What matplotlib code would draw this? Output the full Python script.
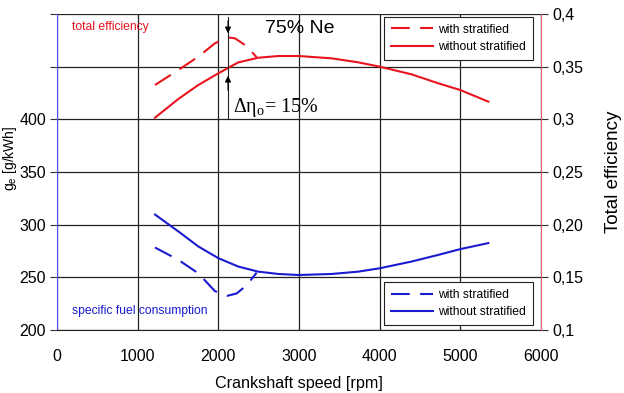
import matplotlib
matplotlib.use("Agg")
import matplotlib.pyplot as plt
from matplotlib.lines import Line2D

plt.rcParams['font.family'] = ['Liberation Sans', 'DejaVu Sans']
plt.rcParams['mathtext.default'] = 'regular'

# Total efficiency (right axis)
rpm_eta_wo = [1215, 1504, 1752, 2000, 2248, 2496, 2744, 3000, 3405, 3735, 4000, 4396, 4727, 5000, 5347]
eta_wo = [0.3016, 0.3193, 0.3326, 0.3437, 0.3541, 0.3585, 0.3601, 0.3601, 0.3579, 0.3541, 0.3500, 0.3427, 0.3342, 0.3278, 0.3168]
rpm_eta_w = [1215, 1504, 1752, 1958, 2115, 2206, 2330, 2413, 2475]
eta_w = [0.3326, 0.3468, 0.3595, 0.3722, 0.3778, 0.3769, 0.3706, 0.3642, 0.3589]

# Specific fuel consumption (left axis)
rpm_ge_wo = [1215, 1504, 1752, 2000, 2248, 2496, 2744, 3000, 3405, 3735, 4000, 4396, 4727, 5000, 5347]
ge_wo = [309.6, 293.6, 279.3, 268.2, 260.2, 255.4, 253.2, 252.2, 253.2, 255.4, 258.6, 265.0, 271.3, 276.8, 282.5]
rpm_ge_w = [1215, 1504, 1752, 1958, 2115, 2227, 2330, 2413, 2475]
ge_w = [278.3, 266.6, 253.8, 236.9, 232.5, 234.7, 241.1, 248.4, 254.5]

left_ticks = [200, 250, 300, 350, 400, 450, 500]
left_labels = ['200', '250', '300', '350', '400', '', '']
right_ticks = [0.1, 0.15, 0.2, 0.25, 0.3, 0.35, 0.4]
right_labels = ['0,1', '0,15', '0,20', '0,25', '0,3', '0,35', '0,4']
x_ticks = [0, 1000, 2000, 3000, 4000, 5000, 6000]
legend_labels = ['with stratified', 'without stratified']

RED = '#e8141e'
BLUE = '#1a1ad0'
DASH = (9, 5)

fig = plt.figure(figsize=(6.24, 3.93), dpi=100)
ax = fig.add_axes([57/624, 1-330/393, (541-57)/624, (330-14)/393])
ax2 = ax.twinx()

ax.set_xlim(0, 6000)
ax.set_ylim(200, 500)
ax2.set_ylim(0.1, 0.4)
ax.set_xticks(x_ticks)
ax.set_yticks(left_ticks)
ax.set_yticklabels(left_labels)
ax2.set_yticks(right_ticks)
ax2.set_yticklabels(right_labels)
ax.grid(True, color='#222222', linewidth=0.9)
ax.set_axisbelow(True)

for a in (ax, ax2):
    a.tick_params(labelsize=11.5, length=5, width=0.8, color='#333333', pad=3)
    for s in a.spines.values():
        s.set_visible(False)
ax.spines['left'].set_visible(True)
ax.spines['left'].set_color('#5050ff')
ax2.spines['right'].set_visible(True)
ax2.spines['right'].set_color('#e06070')
ax.spines['bottom'].set_visible(True)
ax.spines['bottom'].set_color('#222222')
ax.tick_params(axis='x', length=0, pad=14)

ax2.plot(rpm_eta_w, eta_w, color=RED, lw=1.5, dashes=DASH)
ax2.plot(rpm_eta_wo, eta_wo, color=RED, lw=1.5)
ax.plot(rpm_ge_w, ge_w, color=BLUE, lw=1.5, dashes=DASH)
ax.plot(rpm_ge_wo, ge_wo, color=BLUE, lw=1.5)

leg_kw = dict(fontsize=8.7, fancybox=False, framealpha=1, edgecolor='#222222',
              handlelength=3.5, borderpad=0.55, labelspacing=0.45, handletextpad=0.45,
              borderaxespad=0)
leg1 = ax2.legend([Line2D([], [], color=RED, lw=1.5, dashes=DASH), Line2D([], [], color=RED, lw=1.5)],
                  legend_labels, loc='upper right', bbox_to_anchor=(0.9835, 0.9905), **leg_kw)
leg2 = ax2.legend([Line2D([], [], color=BLUE, lw=1.5, dashes=DASH), Line2D([], [], color=BLUE, lw=1.5)],
                  legend_labels, loc='lower right', bbox_to_anchor=(0.9835, 0.0158), **leg_kw)
ax2.add_artist(leg1)
leg1.get_frame().set_linewidth(0.8)
leg2.get_frame().set_linewidth(0.8)

ax.set_xlabel('Crankshaft speed [rpm]', fontsize=11.6, labelpad=8)
ax.set_ylabel('g$_e$ [g/kWh]', fontsize=10, labelpad=4)
ax.yaxis.set_label_coords(-0.078, 0.544)
ax2.set_ylabel('Total efficiency', fontsize=13.5, labelpad=16)

ax2.text(180, 0.3875, 'total efficiency', color=RED, fontsize=8.7, va='center')
ax.text(180, 218, 'specific fuel consumption', color=BLUE, fontsize=8.7, va='center')
ax2.text(2580, 0.3865, '75% Ne', fontsize=14, va='center')
ax2.text(2180, 0.311, r'$\Delta\eta_o$= 15%', fontsize=14.5, va='center',
         family=['Liberation Serif', 'DejaVu Serif'])

# measurement line with arrows
ax2.plot([2120, 2120], [0.397, 0.3], color='#222222', lw=0.8)
ax2.annotate('', xy=(2120, 0.379), xytext=(2120, 0.396),
             arrowprops=dict(arrowstyle='-|>', color='black', lw=0.8, mutation_scale=9))
ax2.annotate('', xy=(2120, 0.344), xytext=(2120, 0.325),
             arrowprops=dict(arrowstyle='-|>', color='black', lw=0.8, mutation_scale=9))

fig.savefig('out.png', dpi=100)
